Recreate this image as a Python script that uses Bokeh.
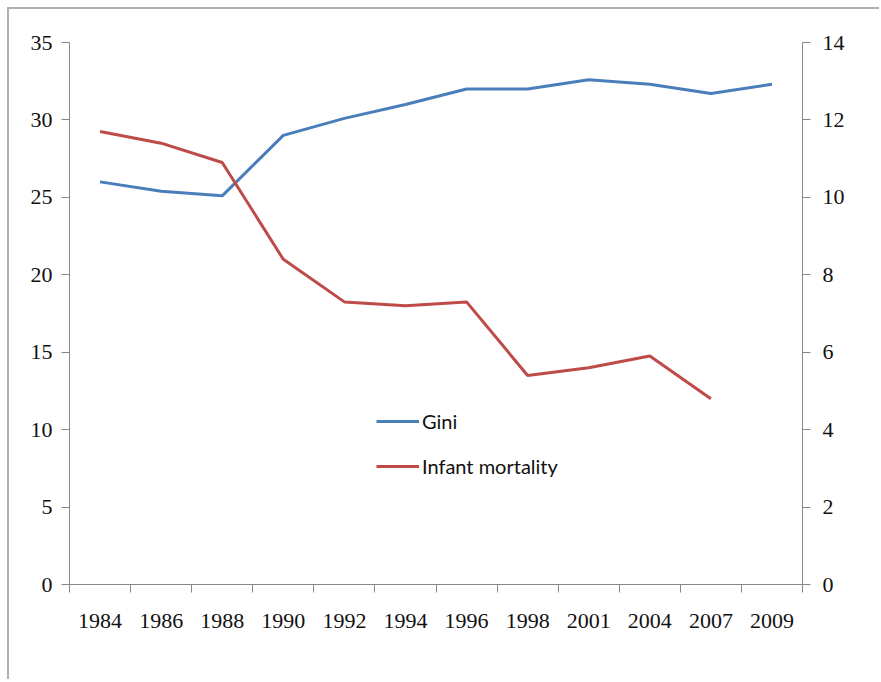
from bokeh.plotting import figure
from bokeh.models import Range1d, LinearAxis, FixedTicker, Legend, LegendItem
from bokeh.embed import file_html
from bokeh.resources import INLINE

years = ["1984", "1986", "1988", "1990", "1992", "1994", "1996", "1998",
         "2001", "2004", "2007", "2009"]
gini = [26.0, 25.4, 25.1, 29.0, 30.1, 31.0, 32.0, 32.0, 32.6, 32.3, 31.7, 32.3]
infant_mortality = [11.7, 11.4, 10.9, 8.4, 7.3, 7.2, 7.3, 5.4, 5.6, 5.9, 4.8, None]
gini_ticks = [0, 5, 10, 15, 20, 25, 30, 35]
im_ticks = [0, 2, 4, 6, 8, 10, 12, 14]

x_pos = list(range(len(years)))
im_x = [i for i, v in zip(x_pos, infant_mortality) if v is not None]
im_y = [v for v in infant_mortality if v is not None]

AXIS_COLOR = "#868686"
TICK_FONT = "Liberation Serif"
TICK_SIZE = "22px"

p = figure(width=872, height=672, output_backend="svg", toolbar_location=None,
           x_range=Range1d(-0.5, len(years) - 0.5),
           y_range=Range1d(gini_ticks[0], gini_ticks[-1]),
           min_border_left=60, min_border_right=79, min_border_top=33,
           min_border_bottom=97, x_axis_type=None, y_axis_type=None)
p.styles = {"border-left": "2px solid #b0b0b0", "border-top": "2px solid #b0b0b0",
            "margin": "7px 0 0 7px"}
p.outline_line_color = None
p.background_fill_color = "white"
p.border_fill_color = "white"
p.extra_y_ranges = {"im": Range1d(im_ticks[0], im_ticks[-1])}

# bottom axis
xaxis = LinearAxis(ticker=FixedTicker(ticks=x_pos,
                                      minor_ticks=[i - 0.5 for i in range(len(years) + 1)]))
xaxis.major_label_overrides = {i: y for i, y in zip(x_pos, years)}
xaxis.major_tick_line_color = None
xaxis.major_tick_out = 8
xaxis.major_tick_in = 0
xaxis.minor_tick_line_color = AXIS_COLOR
xaxis.minor_tick_out = 8
xaxis.minor_tick_in = 0
xaxis.axis_line_color = AXIS_COLOR
xaxis.major_label_standoff = 21
p.add_layout(xaxis, "below")

# left axis
yaxis = LinearAxis(ticker=FixedTicker(ticks=gini_ticks, minor_ticks=[]))
yaxis.major_tick_out = 8
yaxis.major_tick_in = 0
yaxis.major_tick_line_color = AXIS_COLOR
yaxis.axis_line_color = AXIS_COLOR
yaxis.major_label_standoff = 9
p.add_layout(yaxis, "left")

# right axis
raxis = LinearAxis(y_range_name="im", ticker=FixedTicker(ticks=im_ticks, minor_ticks=[]))
raxis.major_tick_out = 8
raxis.major_tick_in = 0
raxis.major_tick_line_color = AXIS_COLOR
raxis.axis_line_color = AXIS_COLOR
raxis.major_label_standoff = 12
p.add_layout(raxis, "right")

for ax in (xaxis, yaxis, raxis):
    ax.major_label_text_font = TICK_FONT
    ax.major_label_text_font_size = TICK_SIZE
    ax.major_label_text_color = "#111111"
    ax.axis_line_width = 1
    ax.major_tick_line_width = 1

p.xgrid.visible = False
p.ygrid.visible = False

r1 = p.line(x_pos, gini, line_color="#4A7EBB", line_width=3)
r2 = p.line(im_x, im_y, line_color="#BE4B48", line_width=3, y_range_name="im")

legend = Legend(items=[LegendItem(label="Gini", renderers=[r1]),
                       LegendItem(label="Infant mortality", renderers=[r2])],
                location=(307, 106))
legend.label_text_font = "Lato"
legend.label_text_font_size = "20px"
legend.label_text_color = "#111111"
legend.glyph_width = 43
legend.glyph_height = 20
legend.label_height = 20
legend.label_standoff = 3
legend.spacing = 21
legend.padding = 0
legend.margin = 0
legend.border_line_alpha = 0
legend.background_fill_alpha = 0
p.add_layout(legend)

open("out.html", "w").write(file_html(p, INLINE))
